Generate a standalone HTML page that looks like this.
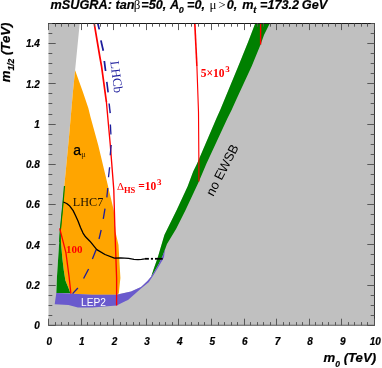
<!DOCTYPE html>
<html><head><meta charset="utf-8"><style>
html,body{margin:0;padding:0;background:#fff;}
svg{display:block;will-change:transform;}

</style></head><body>
<svg width="382" height="368" viewBox="0 0 382 368">
<rect width="382" height="368" fill="#fff"/>
<rect x="48.5" y="23.5" width="326.0" height="301.8" fill="#c0c0c0"/>
<polygon points="79.7,23.5 255.2,23.5 248.3,41.4 238.4,66.0 220.2,110.0 216.6,118.0 196.9,164.0 193.2,171.5 187.6,186.6 176.7,210.0 164.4,235.1 158.2,256.0 156.8,260.3 153.7,269.0 151.2,276.4 147.4,281.0 141.0,287.0 131.0,291.4 118.5,294.2 56.3,293.0 57.0,276.0 60.0,230.0 62.8,202.0 64.5,184.0 68.9,138.0 72.9,92.0 75.1,70.3 79.7,23.5" fill="#fff"/>
<polygon points="75.1,70.3 82.9,92.0 88.3,108.0 90.5,117.1 98.2,145.0 108.7,189.0 113.8,210.6 115.5,232.0 118.5,245.0 120.4,278.0 118.8,293.6 116.6,294.8 92.0,294.8 70.8,293.6 70.4,293.2 68.6,288.2 65.4,280.6 63.8,270.6 62.3,258.0 61.0,242.6 60.3,231.0 62.8,202.0 64.5,184.0 68.9,138.0 72.9,92.0" fill="#ffa500"/>
<polygon points="63.9,190.0 63.4,202.0 61.2,225.0 60.7,231.0 61.0,242.6 62.3,258.0 63.8,270.6 65.4,280.6 68.6,288.2 70.4,293.2 56.3,293.0 57.0,276.0 60.0,230.0 62.8,202.0" fill="#008000"/>
<polygon points="255.2,23.5 248.3,41.4 238.4,66.0 220.2,110.0 216.6,118.0 196.9,164.0 193.2,171.5 187.6,186.6 176.7,210.0 164.4,235.1 158.2,256.0 156.8,260.3 153.7,269.0 151.2,276.4 153.7,272.8 158.7,264.0 162.6,256.0 167.0,244.0 176.2,228.8 185.6,210.0 198.9,181.6 206.3,164.0 227.6,118.0 231.6,110.0 237.0,98.0 251.8,66.0 260.6,44.5 264.0,35.0 269.7,23.5" fill="#008000"/>
<path d="M64.5 186 L63.1 202 L60.4 230 L59.6 242" fill="none" stroke="#008000" stroke-width="1.2"/>
<polygon points="56.3,293.0 69.1,293.6 92.0,294.8 116.6,294.8 118.5,294.2 131.0,291.4 141.0,287.0 147.4,281.0 151.2,276.4 153.7,272.8 158.7,264.0 162.6,256.0 165.0,249.0 164.0,257.0 163.1,259.0 158.7,266.6 153.7,274.7 148.7,282.3 141.0,288.5 128.0,300.0 125.7,301.0 116.6,305.5 92.0,307.4 77.9,307.4 68.5,305.1 54.7,304.3" fill="#6a5acd"/>
<path d="M94.2 23.4 L99.7 56.0 L101.5 66.0 L106.4 102.0" fill="none" stroke="#ff0000" stroke-width="1.7"/>
<path d="M106.4 102.0 L110.3 145.0 L113.8 190.0 L115.0 232.0 L116.6 278.0 L116.6 305.5" fill="none" stroke="#ff0000" stroke-width="1.35"/>
<path d="M194.8 23.4 L196.9 66.0" fill="none" stroke="#ff0000" stroke-width="1.6"/>
<path d="M196.9 66.0 L198.5 112.0 L198.9 164.0 L198.9 181.6" fill="none" stroke="#ff0000" stroke-width="1.15"/>
<path d="M260.6 23.4 L260.6 44.5" fill="none" stroke="#ff0000" stroke-width="1.4"/>
<path d="M59.7 228.3 L65.9 252.6 L69.0 276.0 L70.9 293.6" fill="none" stroke="#ff0000" stroke-width="1.3"/>
<line x1="97.8" y1="23.4" x2="99.3" y2="29.4" stroke="#1c1c9c" stroke-width="1.75"/>
<line x1="100.9" y1="40.4" x2="103.3" y2="50.8" stroke="#1c1c9c" stroke-width="1.75"/>
<line x1="104.3" y1="61" x2="105.6" y2="71" stroke="#1c1c9c" stroke-width="1.75"/>
<line x1="106.8" y1="81.8" x2="108.1" y2="92.4" stroke="#1c1c9c" stroke-width="1.6"/>
<line x1="109.1" y1="103.5" x2="110.2" y2="113.2" stroke="#1c1c9c" stroke-width="1.45"/>
<line x1="110.4" y1="124.5" x2="110.9" y2="134.5" stroke="#1c1c9c" stroke-width="1.3"/>
<line x1="111.2" y1="145" x2="110.2" y2="155.3" stroke="#1c1c9c" stroke-width="1.3"/>
<line x1="109.6" y1="167.2" x2="108.5" y2="177.3" stroke="#1c1c9c" stroke-width="1.3"/>
<line x1="107.8" y1="188" x2="106.8" y2="197.4" stroke="#1c1c9c" stroke-width="1.3"/>
<line x1="105" y1="208.7" x2="103.3" y2="218.8" stroke="#1c1c9c" stroke-width="1.3"/>
<line x1="101.2" y1="230" x2="99" y2="239" stroke="#1c1c9c" stroke-width="1.3"/>
<line x1="96.2" y1="249.6" x2="92.4" y2="259" stroke="#1c1c9c" stroke-width="1.3"/>
<line x1="88.6" y1="269" x2="83.6" y2="278.5" stroke="#1c1c9c" stroke-width="1.3"/>
<line x1="77.9" y1="288" x2="72.6" y2="293.6" stroke="#1c1c9c" stroke-width="1.3"/>
<path d="M63.3 202.0 L66.7 203.5 L69.8 206.1 L73.0 210.4 L75.5 215.5 L78.0 221.1 L80.5 227.4 L83.0 233.1 L85.5 236.8 L89.9 241.2 L96.8 249.6 L105.0 254.5 L114.4 258.1 L120.7 257.8 L128.6 258.4 L134.0 259.3 L138.0 259.7 L141.5 259.3 L144.9 258.8" fill="none" stroke="#000" stroke-width="1.3" stroke-linejoin="round"/>
<line x1="144.9" y1="258.8" x2="148.9" y2="258.8" stroke="#000" stroke-width="1.8"/>
<line x1="150.9" y1="258.8" x2="153" y2="258.8" stroke="#000" stroke-width="1.8"/>
<line x1="155" y1="258.8" x2="162.7" y2="258.8" stroke="#000" stroke-width="1.8"/>
<path d="M48.0 23.5 H375.0" stroke="#1a1a1a" stroke-width="1" fill="none"/>
<path d="M374.5 23.5 V325.8" stroke="#3a3a3a" stroke-width="1" fill="none"/>
<path d="M48.0 325.3 H375.0" stroke="#5a5a5a" stroke-width="1.1" fill="none"/>
<path d="M48.50 325.3 v-6.6 M48.50 23.5 v6.6 M55.50 325.3 v-3.2 M55.50 23.5 v3.2 M61.50 325.3 v-3.2 M61.50 23.5 v3.2 M68.50 325.3 v-3.2 M68.50 23.5 v3.2 M74.50 325.3 v-3.2 M74.50 23.5 v3.2 M81.50 325.3 v-6.6 M81.50 23.5 v6.6 M87.50 325.3 v-3.2 M87.50 23.5 v3.2 M94.50 325.3 v-3.2 M94.50 23.5 v3.2 M100.50 325.3 v-3.2 M100.50 23.5 v3.2 M107.50 325.3 v-3.2 M107.50 23.5 v3.2 M113.50 325.3 v-6.6 M113.50 23.5 v6.6 M120.50 325.3 v-3.2 M120.50 23.5 v3.2 M126.50 325.3 v-3.2 M126.50 23.5 v3.2 M133.50 325.3 v-3.2 M133.50 23.5 v3.2 M139.50 325.3 v-3.2 M139.50 23.5 v3.2 M146.50 325.3 v-6.6 M146.50 23.5 v6.6 M152.50 325.3 v-3.2 M152.50 23.5 v3.2 M159.50 325.3 v-3.2 M159.50 23.5 v3.2 M165.50 325.3 v-3.2 M165.50 23.5 v3.2 M172.50 325.3 v-3.2 M172.50 23.5 v3.2 M178.50 325.3 v-6.6 M178.50 23.5 v6.6 M185.50 325.3 v-3.2 M185.50 23.5 v3.2 M191.50 325.3 v-3.2 M191.50 23.5 v3.2 M198.50 325.3 v-3.2 M198.50 23.5 v3.2 M204.50 325.3 v-3.2 M204.50 23.5 v3.2 M211.50 325.3 v-6.6 M211.50 23.5 v6.6 M218.50 325.3 v-3.2 M218.50 23.5 v3.2 M224.50 325.3 v-3.2 M224.50 23.5 v3.2 M231.50 325.3 v-3.2 M231.50 23.5 v3.2 M237.50 325.3 v-3.2 M237.50 23.5 v3.2 M244.50 325.3 v-6.6 M244.50 23.5 v6.6 M250.50 325.3 v-3.2 M250.50 23.5 v3.2 M257.50 325.3 v-3.2 M257.50 23.5 v3.2 M263.50 325.3 v-3.2 M263.50 23.5 v3.2 M270.50 325.3 v-3.2 M270.50 23.5 v3.2 M276.50 325.3 v-6.6 M276.50 23.5 v6.6 M283.50 325.3 v-3.2 M283.50 23.5 v3.2 M289.50 325.3 v-3.2 M289.50 23.5 v3.2 M296.50 325.3 v-3.2 M296.50 23.5 v3.2 M302.50 325.3 v-3.2 M302.50 23.5 v3.2 M309.50 325.3 v-6.6 M309.50 23.5 v6.6 M315.50 325.3 v-3.2 M315.50 23.5 v3.2 M322.50 325.3 v-3.2 M322.50 23.5 v3.2 M328.50 325.3 v-3.2 M328.50 23.5 v3.2 M335.50 325.3 v-3.2 M335.50 23.5 v3.2 M341.50 325.3 v-6.6 M341.50 23.5 v6.6 M348.50 325.3 v-3.2 M348.50 23.5 v3.2 M354.50 325.3 v-3.2 M354.50 23.5 v3.2 M361.50 325.3 v-3.2 M361.50 23.5 v3.2 M367.50 325.3 v-3.2 M367.50 23.5 v3.2 M374.50 325.3 v-6.6 M374.50 23.5 v6.6 M48.5 325.50 h7.2 M374.5 325.50 h-7.2 M48.5 315.50 h3.8 M374.5 315.50 h-3.8 M48.5 305.50 h3.8 M374.5 305.50 h-3.8 M48.5 295.50 h3.8 M374.5 295.50 h-3.8 M48.5 285.50 h7.2 M374.5 285.50 h-7.2 M48.5 275.50 h3.8 M374.5 275.50 h-3.8 M48.5 264.50 h3.8 M374.5 264.50 h-3.8 M48.5 254.50 h3.8 M374.5 254.50 h-3.8 M48.5 244.50 h7.2 M374.5 244.50 h-7.2 M48.5 234.50 h3.8 M374.5 234.50 h-3.8 M48.5 224.50 h3.8 M374.5 224.50 h-3.8 M48.5 214.50 h3.8 M374.5 214.50 h-3.8 M48.5 204.50 h7.2 M374.5 204.50 h-7.2 M48.5 194.50 h3.8 M374.5 194.50 h-3.8 M48.5 184.50 h3.8 M374.5 184.50 h-3.8 M48.5 174.50 h3.8 M374.5 174.50 h-3.8 M48.5 164.50 h7.2 M374.5 164.50 h-7.2 M48.5 154.50 h3.8 M374.5 154.50 h-3.8 M48.5 144.50 h3.8 M374.5 144.50 h-3.8 M48.5 134.50 h3.8 M374.5 134.50 h-3.8 M48.5 124.50 h7.2 M374.5 124.50 h-7.2 M48.5 114.50 h3.8 M374.5 114.50 h-3.8 M48.5 103.50 h3.8 M374.5 103.50 h-3.8 M48.5 93.50 h3.8 M374.5 93.50 h-3.8 M48.5 83.50 h7.2 M374.5 83.50 h-7.2 M48.5 73.50 h3.8 M374.5 73.50 h-3.8 M48.5 63.50 h3.8 M374.5 63.50 h-3.8 M48.5 53.50 h3.8 M374.5 53.50 h-3.8 M48.5 43.50 h7.2 M374.5 43.50 h-7.2 M48.5 33.50 h3.8 M374.5 33.50 h-3.8 M48.5 23.50 h3.8 M374.5 23.50 h-3.8" stroke="#525252" stroke-width="0.95" fill="none"/>
<text x="49.3" y="344.7" text-anchor="middle" style="font-family:'Liberation Sans',sans-serif;font-weight:bold;font-style:italic;stroke:#000;stroke-width:0.2px;font-size:10px">0</text>
<text x="81.9" y="344.7" text-anchor="middle" style="font-family:'Liberation Sans',sans-serif;font-weight:bold;font-style:italic;stroke:#000;stroke-width:0.2px;font-size:10px">1</text>
<text x="114.5" y="344.7" text-anchor="middle" style="font-family:'Liberation Sans',sans-serif;font-weight:bold;font-style:italic;stroke:#000;stroke-width:0.2px;font-size:10px">2</text>
<text x="147.1" y="344.7" text-anchor="middle" style="font-family:'Liberation Sans',sans-serif;font-weight:bold;font-style:italic;stroke:#000;stroke-width:0.2px;font-size:10px">3</text>
<text x="179.7" y="344.7" text-anchor="middle" style="font-family:'Liberation Sans',sans-serif;font-weight:bold;font-style:italic;stroke:#000;stroke-width:0.2px;font-size:10px">4</text>
<text x="212.3" y="344.7" text-anchor="middle" style="font-family:'Liberation Sans',sans-serif;font-weight:bold;font-style:italic;stroke:#000;stroke-width:0.2px;font-size:10px">5</text>
<text x="244.9" y="344.7" text-anchor="middle" style="font-family:'Liberation Sans',sans-serif;font-weight:bold;font-style:italic;stroke:#000;stroke-width:0.2px;font-size:10px">6</text>
<text x="277.5" y="344.7" text-anchor="middle" style="font-family:'Liberation Sans',sans-serif;font-weight:bold;font-style:italic;stroke:#000;stroke-width:0.2px;font-size:10px">7</text>
<text x="310.1" y="344.7" text-anchor="middle" style="font-family:'Liberation Sans',sans-serif;font-weight:bold;font-style:italic;stroke:#000;stroke-width:0.2px;font-size:10px">8</text>
<text x="342.7" y="344.7" text-anchor="middle" style="font-family:'Liberation Sans',sans-serif;font-weight:bold;font-style:italic;stroke:#000;stroke-width:0.2px;font-size:10px">9</text>
<text x="375.3" y="344.7" text-anchor="middle" style="font-family:'Liberation Sans',sans-serif;font-weight:bold;font-style:italic;stroke:#000;stroke-width:0.2px;font-size:10px">10</text>
<text x="39.8" y="329.1" text-anchor="end" style="font-family:'Liberation Sans',sans-serif;font-weight:bold;font-style:italic;stroke:#000;stroke-width:0.2px;font-size:10px">0</text>
<text x="39.8" y="288.9" text-anchor="end" style="font-family:'Liberation Sans',sans-serif;font-weight:bold;font-style:italic;stroke:#000;stroke-width:0.2px;font-size:10px">0.2</text>
<text x="39.8" y="248.6" text-anchor="end" style="font-family:'Liberation Sans',sans-serif;font-weight:bold;font-style:italic;stroke:#000;stroke-width:0.2px;font-size:10px">0.4</text>
<text x="39.8" y="208.4" text-anchor="end" style="font-family:'Liberation Sans',sans-serif;font-weight:bold;font-style:italic;stroke:#000;stroke-width:0.2px;font-size:10px">0.6</text>
<text x="39.8" y="168.1" text-anchor="end" style="font-family:'Liberation Sans',sans-serif;font-weight:bold;font-style:italic;stroke:#000;stroke-width:0.2px;font-size:10px">0.8</text>
<text x="39.8" y="127.9" text-anchor="end" style="font-family:'Liberation Sans',sans-serif;font-weight:bold;font-style:italic;stroke:#000;stroke-width:0.2px;font-size:10px">1</text>
<text x="39.8" y="87.7" text-anchor="end" style="font-family:'Liberation Sans',sans-serif;font-weight:bold;font-style:italic;stroke:#000;stroke-width:0.2px;font-size:10px">1.2</text>
<text x="39.8" y="47.4" text-anchor="end" style="font-family:'Liberation Sans',sans-serif;font-weight:bold;font-style:italic;stroke:#000;stroke-width:0.2px;font-size:10px">1.4</text>
<text x="323.5" y="362.3" style="font-family:'Liberation Sans',sans-serif;font-weight:bold;font-style:italic;stroke:#000;stroke-width:0.2px;font-size:13.2px">m<tspan dy="4.2" style="font-size:8.5px">0</tspan><tspan dy="-4.2"> (TeV)</tspan></text>
<text transform="translate(9.8,82.3) rotate(-90)" style="font-family:'Liberation Sans',sans-serif;font-weight:bold;font-style:italic;stroke:#000;stroke-width:0.2px;font-size:13.2px">m<tspan dy="4.5" style="font-size:8.5px">1/2</tspan><tspan dy="-4.5"> (TeV)</tspan></text>
<text x="50.6" y="8.8" style="font-family:'Liberation Sans',sans-serif;font-weight:bold;font-style:italic;stroke:#000;stroke-width:0.2px;font-size:12.7px">mSUGRA: tan</text>
<text x="133.8" y="8.8" style="font-family:'Liberation Serif',serif;font-weight:normal;font-style:normal;font-size:13px">β</text>
<text x="141.3" y="8.8" style="font-family:'Liberation Sans',sans-serif;font-weight:bold;font-style:italic;stroke:#000;stroke-width:0.2px;font-size:12.7px">=50,</text>
<text x="170.0" y="8.8" style="font-family:'Liberation Sans',sans-serif;font-weight:bold;font-style:italic;stroke:#000;stroke-width:0.2px;font-size:12.7px">A</text>
<text x="178.8" y="13.100000000000001" style="font-family:'Liberation Sans',sans-serif;font-weight:bold;font-style:italic;stroke:#000;stroke-width:0.2px;font-size:9px">0</text>
<text x="187.0" y="8.8" style="font-family:'Liberation Sans',sans-serif;font-weight:bold;font-style:italic;stroke:#000;stroke-width:0.2px;font-size:12.7px">=0,</text>
<text x="209.6" y="8.8" style="font-family:'Liberation Serif',serif;font-weight:normal;font-style:normal;font-size:13px">μ</text>
<text x="218.3" y="8.8" style="font-family:'Liberation Serif',serif;font-weight:normal;font-style:normal;font-size:13px">&gt;</text>
<text x="226.8" y="8.8" style="font-family:'Liberation Sans',sans-serif;font-weight:bold;font-style:italic;stroke:#000;stroke-width:0.2px;font-size:12.7px">0,</text>
<text x="242.3" y="8.8" style="font-family:'Liberation Sans',sans-serif;font-weight:bold;font-style:italic;stroke:#000;stroke-width:0.2px;font-size:12.7px">m</text>
<text x="253.3" y="13.100000000000001" style="font-family:'Liberation Sans',sans-serif;font-weight:bold;font-style:italic;stroke:#000;stroke-width:0.2px;font-size:9px">t</text>
<text x="260.0" y="8.8" style="font-family:'Liberation Sans',sans-serif;font-weight:bold;font-style:italic;stroke:#000;stroke-width:0.2px;font-size:12.7px">=173.2</text>
<text x="301.8" y="8.8" style="font-family:'Liberation Sans',sans-serif;font-weight:bold;font-style:italic;stroke:#000;stroke-width:0.2px;font-size:12.7px">GeV</text>
<text x="66.0" y="253.2" fill="#ff0000" style="font-family:'Liberation Serif',serif;font-weight:bold;font-size:11px">100</text>
<text x="200.7" y="76.6" fill="#ff0000" style="font-family:'Liberation Serif',serif;font-weight:bold;font-size:11.5px">5×10<tspan dx="0.8" dy="-5" style="font-size:9px">3</tspan></text>
<text x="116.9" y="190" fill="#ff0000" style="font-family:'Liberation Serif',serif;font-weight:bold;font-size:11.5px"><tspan style="font-weight:normal;font-size:11px">Δ</tspan><tspan dy="2.5" style="font-size:8.5px">HS</tspan><tspan dy="-2.5"> =10</tspan><tspan dx="0.8" dy="-4.6" style="font-size:9px">3</tspan></text>
<text x="72.8" y="205.9" fill="#1e1200" style="font-family:'Liberation Serif',serif;font-size:12.2px">LHC7</text>
<text x="73.2" y="154.8" fill="#000" style="font-family:'Liberation Sans',sans-serif;font-size:14px;stroke:#000;stroke-width:0.25px">a<tspan dx="0.3" dy="2.4" style="font-family:'Liberation Serif',serif;font-size:8.5px;stroke:none" fill="#3a2400">μ</tspan></text>
<text x="81" y="305.6" fill="#fff" style="font-family:'Liberation Sans',sans-serif;font-size:10.2px">LEP2</text>
<text transform="translate(110.3,61.6) rotate(82.6)" fill="#1c1c9c" style="font-family:'Liberation Serif',serif;font-size:12.8px">LHCb</text>
<text transform="translate(213.2,196.9) rotate(-62.5)" fill="#000" style="font-family:'Liberation Sans',sans-serif;font-size:12.9px">no EWSB</text>
</svg>
</body></html>
